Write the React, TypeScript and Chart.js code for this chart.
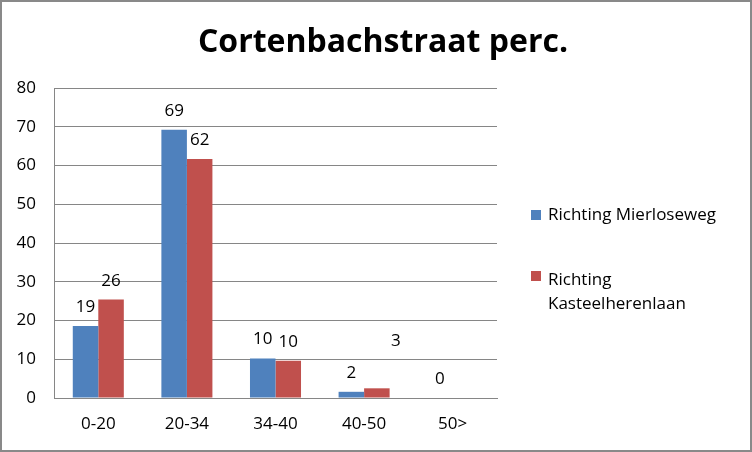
import { useEffect, useRef } from "react"
import { Chart, type ChartConfiguration, registerables } from "chart.js"

Chart.register(...registerables)

const categories = ["0-20", "20-34", "34-40", "40-50", "50>"]
const mierloseweg = [18.6, 69.2, 10.2, 1.6, 0]
const kasteelherenlaan: (number | null)[] = [25.4, 61.7, 9.6, 2.5, null]
const mierlosewegLabels = ["19", "69", "10", "2", "0"]
const kasteelherenlaanLabels = ["26", "62", "10", "3", ""]
const yTicks = [0, 10, 20, 30, 40, 50, 60, 70, 80]

const BLUE = "#4F81BD"
const RED = "#C0504D"
const FONT = "'Open Sans'"

// Excel moved a single label by hand, keep that shift
const labelShift: Record<string, { dx: number; dy: number }> = {
  "1-3": { dx: 19, dy: -28 },
}

const overlayPlugin = {
  id: "overlay",
  afterDatasetsDraw(chart: Chart) {
    const ctx = chart.ctx
    ctx.save()
    ctx.fillStyle = "#000"
    ctx.textAlign = "center"
    ctx.textBaseline = "alphabetic"
    ctx.font = `17px ${FONT}`
    const labelSets = [mierlosewegLabels, kasteelherenlaanLabels]
    chart.data.datasets.forEach((_, di) => {
      const meta = chart.getDatasetMeta(di)
      meta.data.forEach((bar: any, i) => {
        const text = labelSets[di][i]
        if (!text) return
        const shift = labelShift[`${di}-${i}`] || { dx: 0, dy: 0 }
        ctx.fillText(text, bar.x + shift.dx, bar.y - 14 + shift.dy)
      })
    })

    // title
    ctx.font = `bold 32px ${FONT}`
    ctx.fillText("Cortenbachstraat perc.", 381, 50)

    // legend
    ctx.textAlign = "left"
    ctx.font = `17px ${FONT}`
    ctx.fillStyle = BLUE
    ctx.fillRect(529, 208, 10, 10)
    ctx.fillStyle = RED
    ctx.fillRect(529, 269, 10, 10)
    ctx.fillStyle = "#000"
    ctx.fillText("Richting Mierloseweg", 546, 218)
    ctx.fillText("Richting", 546, 283)
    ctx.fillText("Kasteelherenlaan", 546, 307)
    ctx.restore()
  },
}

export default function App() {
  const canvasRef = useRef<HTMLCanvasElement>(null)

  useEffect(() => {
    document.body.style.margin = "0"
    if (!canvasRef.current) return
    const ctx = canvasRef.current.getContext("2d")
    if (!ctx) return

    const config: ChartConfiguration = {
      type: "bar",
      data: {
        labels: categories,
        datasets: [
          {
            label: "Richting Mierloseweg",
            data: mierloseweg,
            backgroundColor: BLUE,
            categoryPercentage: 0.576,
            barPercentage: 1,
          },
          {
            label: "Richting Kasteelherenlaan",
            data: kasteelherenlaan,
            backgroundColor: RED,
            categoryPercentage: 0.576,
            barPercentage: 1,
          },
        ],
      },
      options: {
        responsive: false,
        animation: false,
        layout: { padding: { left: 0, right: 253, top: 86, bottom: 0 } },
        plugins: {
          legend: { display: false },
          title: { display: false },
          tooltip: { enabled: false },
        },
        scales: {
          x: {
            grid: { display: false, drawTicks: false },
            border: { display: true, color: "#868686", width: 1 },
            ticks: { color: "#000", font: { family: FONT, size: 17 }, padding: 16 },
            afterFit: (scale) => {
              scale.height = 52
            },
          },
          y: {
            min: 0,
            max: 80,
            afterBuildTicks: (scale) => {
              scale.ticks = yTicks.map((v) => ({ value: v }))
            },
            grid: { color: "#868686", drawTicks: false },
            border: { display: true, color: "#868686", width: 1 },
            ticks: { color: "#000", font: { family: FONT, size: 17 }, padding: 18 },
            afterFit: (scale) => {
              scale.width = 52
            },
          },
        },
      },
      plugins: [overlayPlugin],
    }

    const chart = new Chart(ctx, config)
    return () => {
      chart.destroy()
    }
  }, [])

  return (
    <div
      style={{
        width: 752,
        height: 452,
        boxSizing: "border-box",
        border: "2px solid #898989",
        background: "#fff",
      }}
    >
      <canvas ref={canvasRef} width={748} height={448} style={{ display: "block" }}></canvas>
    </div>
  )
}
